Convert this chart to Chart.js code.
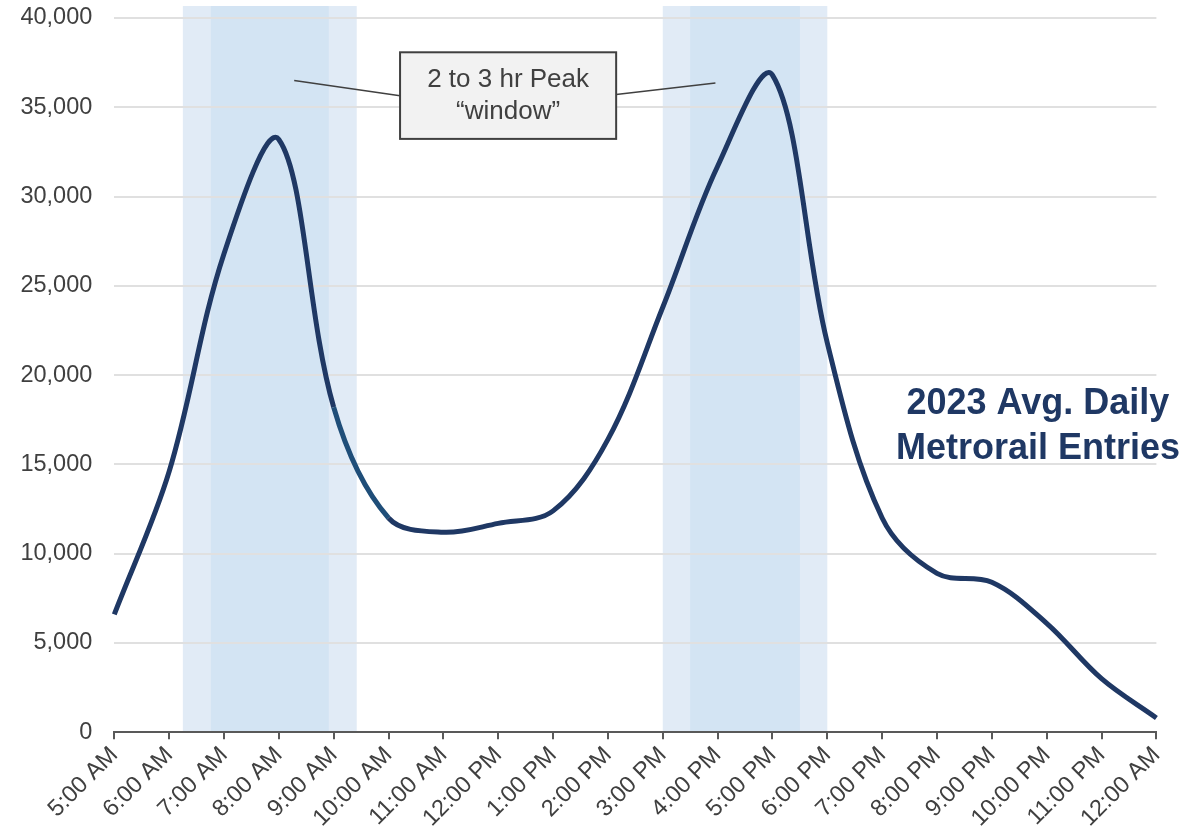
<!DOCTYPE html>
<html>
<head>
<meta charset="utf-8">
<title>2023 Avg. Daily Metrorail Entries</title>
<script src="https://cdn.jsdelivr.net/npm/chart.js@4.4.1/dist/chart.umd.min.js"></script>
<style>
  html, body { margin: 0; padding: 0; background: #fff; }
  #wrap { width: 1203px; height: 830px; position: relative; }
</style>
</head>
<body>
<div id="wrap"><canvas id="entries"></canvas></div>
<script>
// hourly entries, 5 AM through midnight
const hours = [
  "5:00 AM", "6:00 AM", "7:00 AM", "8:00 AM", "9:00 AM", "10:00 AM", "11:00 AM",
  "12:00 PM", "1:00 PM", "2:00 PM", "3:00 PM", "4:00 PM", "5:00 PM", "6:00 PM",
  "7:00 PM", "8:00 PM", "9:00 PM", "10:00 PM", "11:00 PM", "12:00 AM"
];
const entries = [
  6600, 14600, 26800, 33200, 18200, 12000, 11200,
  11700, 12400, 16400, 23800, 31700, 36800, 21800,
  12000, 8900, 8400, 6100, 3000, 800
];

// peak windows in hours after 5 AM: wide band and core band
const windowOuter = [[1.25, 4.42], [10.0, 13.0]];
const windowInner = [[1.76, 3.91], [10.5, 12.5]];

const FONT = '"Liberation Sans", Arial, sans-serif';
const NAVY = '#1f3864';

const peakBands = {
  id: 'peakBands',
  beforeDraw(chart) {
    const { ctx, scales: { x, y } } = chart;
    const top = y.getPixelForValue(40670);
    const bottom = y.getPixelForValue(0);
    ctx.save();
    ctx.fillStyle = '#e1ebf6';
    windowOuter.forEach(([a, b]) => {
      const x0 = x.getPixelForValue(a), x1 = x.getPixelForValue(b);
      ctx.fillRect(x0, top, x1 - x0, bottom - top);
    });
    ctx.fillStyle = '#d3e4f3';
    windowInner.forEach(([a, b]) => {
      const x0 = x.getPixelForValue(a), x1 = x.getPixelForValue(b);
      ctx.fillRect(x0, top, x1 - x0, bottom - top);
    });
    ctx.restore();
  }
};

const callouts = {
  id: 'callouts',
  afterDraw(chart) {
    const { ctx, scales: { x, y } } = chart;
    const px = v => x.getPixelForValue(v);
    const py = v => y.getPixelForValue(v);
    ctx.save();

    // leader lines from the box to each window
    ctx.strokeStyle = '#404040';
    ctx.lineWidth = 1.5;
    ctx.beginPath();
    ctx.moveTo(px(3.28), py(36500));
    ctx.lineTo(px(5.21), py(35650));
    ctx.moveTo(px(9.15), py(35710));
    ctx.lineTo(px(10.96), py(36360));
    ctx.stroke();

    // box
    const bx0 = px(5.21), bx1 = px(9.15), by0 = py(38080), by1 = py(33230);
    ctx.fillStyle = '#f2f2f2';
    ctx.fillRect(bx0, by0, bx1 - bx0, by1 - by0);
    ctx.lineWidth = 2;
    ctx.strokeRect(bx0, by0, bx1 - bx0, by1 - by0);

    ctx.fillStyle = '#404040';
    ctx.font = '26px ' + FONT;
    ctx.textAlign = 'center';
    ctx.textBaseline = 'alphabetic';
    const cx = (bx0 + bx1) / 2;
    ctx.fillText('2 to 3 hr Peak', cx, py(36120));
    ctx.fillText('\u201Cwindow\u201D', cx, py(34350));

    // series title
    ctx.fillStyle = NAVY;
    ctx.font = 'bold 36px ' + FONT;
    ctx.fillText('2023 Avg. Daily', px(16.84), py(17850));
    ctx.fillText('Metrorail Entries', px(16.84), py(15330));
    ctx.restore();
  }
};

new Chart(document.getElementById('entries'), {
  type: 'line',
  data: {
    labels: hours,
    datasets: [{
      label: '2023 Avg. Daily Metrorail Entries',
      data: entries,
      borderColor: NAVY,
      borderWidth: 5,
      pointRadius: 0,
      tension: 0.35,
      fill: false,
      segment: {
        // 9 AM to 10 AM drawn in the lighter blue
        borderColor: c => (c.p0DataIndex === 4 ? '#1f4e79' : NAVY)
      }
    }]
  },
  options: {
    responsive: true,
    maintainAspectRatio: false,
    animation: false,
    devicePixelRatio: 1,
    layout: { padding: { top: 18, right: 46.6, left: 0, bottom: 0 } },
    plugins: {
      legend: { display: false },
      tooltip: { enabled: false },
      title: { display: false }
    },
    scales: {
      x: {
        type: 'category',
        offset: false,
        grid: {
          drawOnChartArea: false,
          drawTicks: true,
          tickLength: 7,
          color: '#595959',
          lineWidth: 2,
          offset: false
        },
        border: { display: true, color: '#595959', width: 2 },
        ticks: {
          autoSkip: false,
          maxRotation: 45,
          minRotation: 45,
          padding: 2,
          color: '#404040',
          font: { family: FONT, size: 23.5 }
        },
        afterFit: s => { s.height = 97.7; s.paddingLeft = 0; s.paddingRight = 0; }
      },
      y: {
        min: 0,
        max: 40000,
        ticks: {
          stepSize: 5000,
          padding: 22,
          color: '#404040',
          font: { family: FONT, size: 23.5 }
        },
        grid: { color: '#e0e0e0', lineWidth: 2, drawTicks: false },
        border: { display: false },
        afterFit: s => { s.width = 114.3; s.paddingTop = 0; s.paddingBottom = 0; }
      }
    }
  },
  plugins: [peakBands, callouts]
});
</script>
</body>
</html>
